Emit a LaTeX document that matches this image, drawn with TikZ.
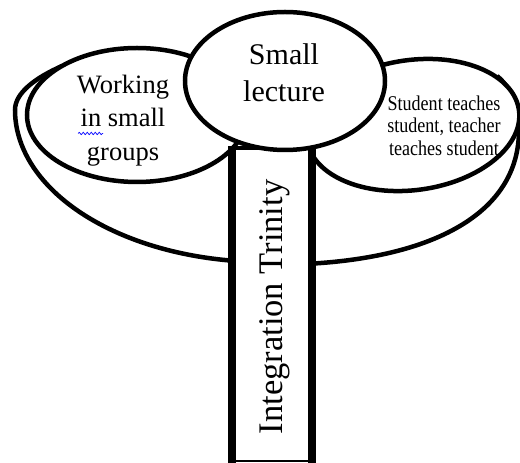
\documentclass[tikz,border=0pt]{standalone}
\usepackage{fontspec}
\setmainfont{Liberation Serif}
\usetikzlibrary{decorations.pathmorphing}
\tikzset{rim/.style={line width=4.5pt}, post/.style={line width=8pt}}
\begin{document}
\begin{tikzpicture}[x=1pt,y=1pt]
\useasboundingbox (0,0) rectangle (520,463);
\draw[rim] (62,397) .. controls (35,385) and (15,370) .. (15,353) arc[start angle=180, end angle=275, x radius=250, y radius=152];
\draw[rim] (497,387) .. controls (512,375) and (519,353) .. (519,333) .. controls (519,248) and (430,205) .. (305,199);

\draw[rim, fill=white] (137,348) ellipse (110 and 67);
\draw[rim, fill=white, rotate around={8:(413,338)}] (413,338) ellipse (107 and 65);

\fill[white] (232,2) rectangle (312,315);
\draw[post] (232,0)--(232,315);
\draw[post] (312,0)--(312,315);
\draw[rim] (228,315)--(316,315);
\draw[line width=1.5pt] (232,2)--(312,2);

\draw[rim, fill=white] (285,382) ellipse (100 and 69);

\node[align=center, font=\fontsize{30}{37}\selectfont] (lecture) at (284,390) {Small\\lecture};
\node[align=center, font=\fontsize{26.5}{33.5}\selectfont] (groups) at (123,342.5) {Working\\in small\\groups};
\node[align=center, xscale=0.86, font=\fontsize{21}{22.5}\selectfont] (teaching) at (444,337.5) {Student teaches\\student, teacher\\teaches student};
\node[rotate=90, font=\fontsize{34.5}{40}\selectfont] (trinity) at (274.5,156) {Integration Trinity};

\draw[blue, line width=0.7pt, decorate, decoration={snake, amplitude=1.2pt, segment length=4pt}] (78,329.5)--(103,329.5);
\end{tikzpicture}
\end{document}
